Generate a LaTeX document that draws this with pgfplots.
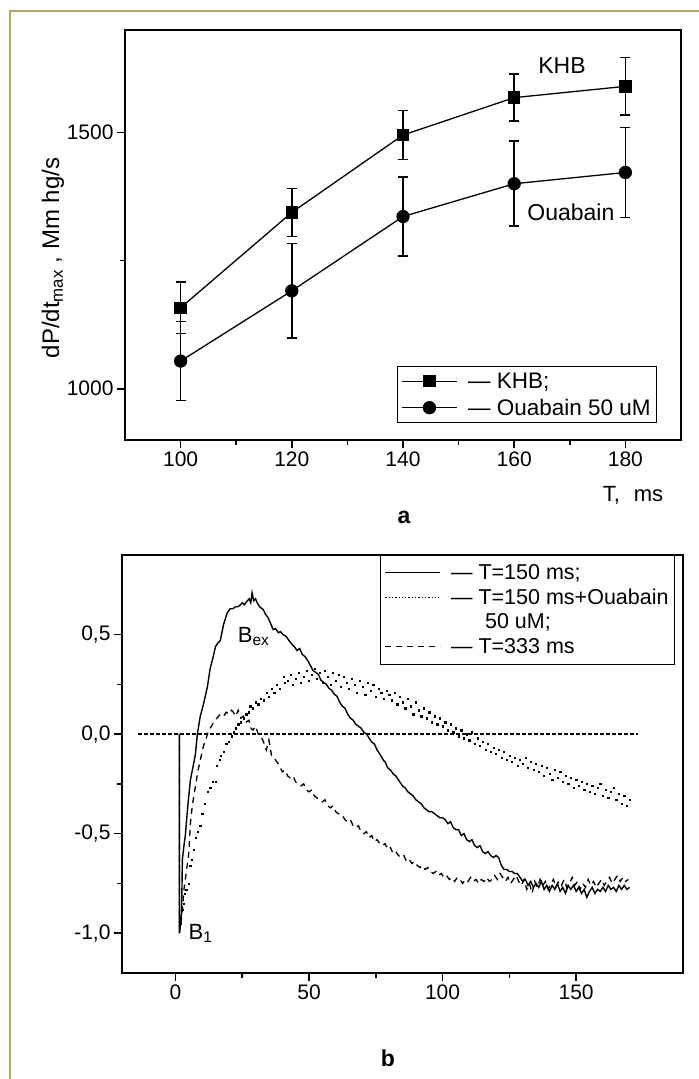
\documentclass[border=0pt]{standalone}
\usepackage{pgfplots}
\pgfplotsset{compat=1.18}
\usepackage{fontspec}
\setmainfont{Liberation Sans}
\definecolor{frameol}{RGB}{178,168,96}
\newcommand{\fa}{\fontsize{21bp}{25bp}\selectfont}
\newcommand{\fl}{\fontsize{22.5bp}{26bp}\selectfont}
\newcommand{\fb}{\fontsize{21.5bp}{24bp}\selectfont}
\newcommand{\ft}{\fontsize{23bp}{27bp}\selectfont}
\pgfplotsset{
  myaxis/.style={
    scale only axis, clip=false,
    axis line style={line width=1.8bp},
    tick style={line width=1.6bp, black},
    major tick length=8bp, minor tick length=5bp,
    tick align=outside, tick pos=left,
    tick label style={font=\fa},
  }
}
\begin{document}
\begin{tikzpicture}[x=1bp,y=1bp]
\path[use as bounding box] (0,0) rectangle (699,1079);
\draw[frameol, line width=2bp] (10,0) -- (10,1068) -- (700,1068);
% ---------------- panel a ----------------
\begin{axis}[myaxis,
  at={(125bp,639bp)}, anchor=south west,
  width=556bp, height=410bp,
  xmin=90, xmax=190, ymin=900, ymax=1700,
  xtick={100,120,140,160,180}, xticklabels={100,120,140,160,180},
  ytick={1000,1500}, yticklabels={1000,1500},
  minor x tick num=1, minor y tick num=1,
  legend style={at={(rel axis cs:0.957,0.0415)}, anchor=south east,
    font=\fl, draw=black, line width=0.8bp, row sep=5bp, inner sep=4bp},
  legend cell align=left,
  legend image code/.code={\draw[mark repeat=2,mark phase=2,#1] plot coordinates {(0bp,0bp) (27bp,0bp) (55bp,0bp)};},
]
\addplot[black, line width=1.3bp, mark=square*, mark size=5.5bp, mark options={solid},
  error bars/.cd, y dir=both, y explicit,
  error bar style={line width=1.6bp},
  error mark options={rotate=90, mark size=5bp, line width=1.6bp}]
  coordinates {(100,1158) +- (0,50) (120,1344) +- (0,47) (140,1495) +- (0,48) (160,1568) +- (0,46) (180,1590) +- (0,56)};
\addlegendentry{\hspace*{8bp}— KHB;}
\addplot[black, line width=1.3bp, mark=*, mark size=6bp, mark options={solid},
  error bars/.cd, y dir=both, y explicit,
  error bar style={line width=1.6bp},
  error mark options={rotate=90, mark size=5bp, line width=1.6bp}]
  coordinates {(100,1054) +- (0,77) (120,1191) +- (0,92) (140,1336) +- (0,77) (160,1400) +- (0,83) (180,1422) +- (0,88)};
\addlegendentry{\hspace*{8bp}— Ouabain 50 uM}
\node[font=\ft] at (axis cs:168.6,1631) {KHB};
\node[font=\ft] at (axis cs:170.2,1344) {Ouabain};
\node[font=\fontsize{24bp}{28bp}\selectfont, rotate=90] at (rel axis cs:-0.1295,0.444) {dP/dt\textsubscript{max} , Mm hg/s};
\end{axis}
\node[font=\fontsize{22bp}{26bp}\selectfont] at (633,584) {T,\hspace{14bp}ms};
\node[font=\ft\bfseries] at (404,562) {a};
% ---------------- panel b ----------------
\begin{axis}[myaxis,
  at={(122bp,106bp)}, anchor=south west,
  width=561bp, height=418bp,
  xmin=-20, xmax=190, ymin=-1.2, ymax=0.9,
  xtick={0,50,100,150}, xticklabels={0,50,100,150},
  ytick={-1,-0.5,0,0.5}, yticklabels={{-1,0},{-0,5},{0,0},{0,5}},
  minor x tick num=1, minor y tick num=1,
  legend style={at={(rel axis cs:0.9857,1)}, anchor=north east,
    font=\fb, draw=black, line width=0.8bp, row sep=4bp, inner xsep=4bp, inner ysep=7bp},
  legend cell align=left,
  legend image code/.code={\draw[#1] (0bp,0bp) -- (55bp,0bp);},
]
\addlegendimage{black, line width=1.3bp}
\addlegendentry{\hspace*{8bp}— T=150 ms;}
\addlegendimage{black, line width=1.3bp, dotted}
\addlegendentry{\hspace*{8bp}— T=150 ms+Ouabain}
\addlegendimage{empty legend}
\addlegendentry{\hspace*{42bp}50 uM;}
\addlegendimage{black, line width=1.3bp, dash pattern=on 6bp off 5bp}
\addlegendentry{\hspace*{8bp}— T=333 ms}
% zero line
\addplot[forget plot, black, line width=1.3bp, dash pattern=on 4bp off 2bp] coordinates {(-14,0) (173,0)};
% T=150 ms+Ouabain (dots)
\addplot[forget plot, black, only marks, mark=square*, mark size=0.6bp] coordinates {
(2,-0.95) (2.5,-0.88) (3,-0.85) (3.5,-0.80) (4,-0.78) (5,-0.75) (5.5,-0.66) (6,-0.63) (6.8,-0.58) (7.5,-0.52)
(8.3,-0.49) (9.3,-0.46) (10,-0.40) (11,-0.35) (12,-0.29) (13,-0.27) (14,-0.24) (15,-0.24) (15.5,-0.16) (16.5,-0.13)
(17,-0.11) (18,-0.09) (19,-0.05) (20,-0.04) (21,-0.01) (21.7,0.01) (22.5,0.03) (23.5,0.05) (24.5,0.06) (25.5,0.08)
(26.5,0.10) (27.5,0.11) (28,0.14) (29,0.13) (30,0.16) (31,0.15) (32,0.18) (33,0.17) (34.3,0.21) (35,0.19)
(36,0.23) (37,0.21) (38,0.25) (39,0.23) (40.4,0.29) (41,0.26) (42,0.27) (43,0.30) (44,0.25) (45,0.28)
(46,0.31) (47,0.26) (48,0.29) (49,0.32) (50,0.27) (51,0.30) (52,0.33) (53,0.28) (54,0.31) (55,0.26)
(56,0.32) (57,0.29) (58,0.25) (59,0.31) (60,0.27) (61,0.30) (62,0.24) (63,0.29) (64,0.26) (65,0.23)
(66,0.28) (67,0.25) (68,0.21) (69,0.27) (70,0.24) (71,0.20) (72,0.26) (73,0.22) (74,0.25) (75,0.19)
(76,0.23) (77,0.21) (78,0.18) (79,0.22) (80,0.20) (81,0.17) (82,0.21) (83,0.15) (84,0.19) (85,0.16)
(86,0.13) (87,0.18) (88,0.14) (89,0.10) (90,0.16) (91,0.12) (92,0.09) (93,0.13) (94,0.08) (95,0.11)
(96,0.06) (97,0.09) (98,0.05) (99,0.08) (100,0.04) (101,0.06) (102,0.02) (103,0.05) (104,0.01) (105,0.03)
(106,-0.01) (107,0.02) (108,-0.02) (109,0.0) (110,-0.03) (111,0.01) (112,-0.05) (113,-0.02) (114,-0.06) (115,-0.04)
(116,-0.08) (117,-0.05) (118,-0.09) (119,-0.07) (120,-0.10) (121,-0.08) (122,-0.12) (123,-0.09) (124,-0.13) (125,-0.11)
(126,-0.14) (127,-0.12) (128,-0.16) (129,-0.13) (130,-0.15) (131,-0.12) (132,-0.17) (133,-0.14) (134,-0.18) (135,-0.15)
(136,-0.19) (137,-0.16) (138,-0.21) (139,-0.17) (140,-0.20) (141,-0.23) (142,-0.18) (143,-0.22) (144,-0.19) (145,-0.24)
(146,-0.21) (147,-0.25) (148,-0.22) (149,-0.27) (150,-0.23) (151,-0.26) (152,-0.24) (153,-0.28) (154,-0.25) (155,-0.29)
(156,-0.26) (157,-0.30) (158,-0.27) (159,-0.25) (160,-0.31) (161,-0.28) (162,-0.32) (163,-0.29) (164,-0.27) (165,-0.33)
(166,-0.30) (167,-0.35) (168,-0.31) (169,-0.36) (170,-0.33)};
% T=333 ms (dashed)
\addplot[forget plot, black, line width=1.3bp, dash pattern=on 6bp off 5bp] coordinates {
(1.5,0) (1.5,-1.0) (2.5,-0.9) (3.2,-0.78) (4,-0.7) (5,-0.6) (5.6,-0.45) (6.3,-0.36) (7.5,-0.26) (8.5,-0.18) (9.3,-0.13)
(10.5,-0.06) (11.5,-0.02) (12.5,0.02) (13.5,0.04) (14.3,0.06) (15.5,0.08) (16.8,0.10) (18,0.09) (19,0.11) (20,0.10)
(21,0.12) (21.7,0.11) (22.5,0.09) (23.5,0.12) (24.5,0.08) (25.4,0.09) (26.5,0.06) (27.5,0.07) (28.3,0.03) (29,0.02)
(30,0.04) (31,0.0) (32,-0.01) (33,-0.04) (34,-0.08) (35,-0.03) (36,-0.11) (37,-0.12) (38,-0.14) (39,-0.16)
(40,-0.19) (41,-0.18) (42,-0.21) (43,-0.22) (44,-0.21) (45,-0.24) (46,-0.25) (47,-0.26) (48,-0.25) (49,-0.28)
(50,-0.29) (51,-0.28) (52,-0.31) (53,-0.32) (54,-0.33) (55,-0.34) (56,-0.33) (57,-0.36) (58,-0.37) (59,-0.36)
(60,-0.39) (61,-0.40) (62,-0.40) (63.5,-0.43) (64.5,-0.44) (65.5,-0.43) (66.5,-0.46) (67.5,-0.47) (68.5,-0.46) (69.5,-0.49)
(70.5,-0.50) (71.5,-0.49) (72.5,-0.52) (73.5,-0.51) (74.5,-0.54) (75.5,-0.53) (76.5,-0.55) (77.5,-0.56) (78.5,-0.55) (79.5,-0.58)
(80.5,-0.57) (81.5,-0.60) (82.5,-0.59) (83.5,-0.61) (84.5,-0.62) (85.5,-0.61) (86.5,-0.64) (87.5,-0.63) (88.5,-0.65) (89.5,-0.64)
(90.5,-0.66) (91.5,-0.67) (92.5,-0.66) (93.5,-0.68) (94.5,-0.67) (95.5,-0.69) (96.5,-0.70) (97.5,-0.69) (98.5,-0.71) (99.5,-0.70)
(100.5,-0.72) (101.5,-0.71) (102.5,-0.73) (103.5,-0.72) (104.5,-0.74) (105.5,-0.72) (106.5,-0.73) (107.5,-0.75) (108.5,-0.73) (109.5,-0.74)
(110.5,-0.72) (111.5,-0.74) (112.5,-0.73) (113.5,-0.75) (114.5,-0.73) (115.5,-0.74) (116.5,-0.72) (117.5,-0.74) (118.5,-0.73) (119.5,-0.71)
(120.5,-0.73) (121.5,-0.70) (122.5,-0.72) (123.5,-0.74) (124.5,-0.72) (125.5,-0.75) (126.5,-0.73) (127.5,-0.71) (128.5,-0.74) (129.5,-0.76)
(130.5,-0.73) (131.5,-0.78) (132.5,-0.75) (133.5,-0.80) (134.5,-0.74) (135.5,-0.77) (136.5,-0.73) (137.5,-0.76) (138.5,-0.74) (139.5,-0.78)
(140.5,-0.75) (141.5,-0.73) (142.5,-0.77) (143.5,-0.74) (144.5,-0.76) (145.5,-0.73) (146.5,-0.77) (147.5,-0.75) (148.5,-0.72) (149.5,-0.76)
(150.5,-0.74) (151.5,-0.78) (152.5,-0.75) (153.5,-0.77) (154.5,-0.73) (155.5,-0.76) (156.5,-0.74) (157.5,-0.77) (158.5,-0.75) (159.5,-0.73)
(160.5,-0.76) (161.5,-0.74) (162.5,-0.72) (163.5,-0.75) (164.5,-0.73) (165.5,-0.71) (166.5,-0.74) (167.5,-0.72) (168.5,-0.74) (169.5,-0.73)};
% T=150 ms (solid)
\addplot[forget plot, black, line width=1.4bp] coordinates {
(1.5,0) (1.5,-1.0) (2.3,-0.9) (2.6,-0.63) (3.2,-0.56) (3.7,-0.51) (4.5,-0.38) (5.6,-0.23) (6.5,-0.17) (7.5,-0.10)
(8.2,0.0) (9.3,0.09) (10.5,0.15) (12,0.24) (13,0.33) (14,0.38) (15,0.44) (16,0.46) (16.8,0.47) (18,0.55)
(19.4,0.61) (20.5,0.63) (21.5,0.63) (22.5,0.64) (23.5,0.64) (24.3,0.65) (25,0.66) (25.8,0.65) (26.9,0.67) (27.6,0.68)
(28.2,0.66) (28.7,0.71) (29.3,0.67) (30,0.68) (30.6,0.66) (31.5,0.64) (32.9,0.625) (33.8,0.60) (34.5,0.59) (35.5,0.56)
(36.6,0.525) (37.5,0.53) (38.5,0.51) (39.3,0.515) (40.3,0.50) (41.5,0.49) (42.5,0.47) (43.7,0.45) (44.5,0.44) (45.5,0.42)
(46.5,0.43) (47.5,0.40) (48.5,0.39) (49.5,0.37) (50.5,0.345) (51.5,0.32) (52.5,0.31) (53.5,0.30) (54.5,0.27) (55.5,0.26)
(56.5,0.25) (57.5,0.23) (58.5,0.22) (59.5,0.20) (60.5,0.19) (61.5,0.16) (62.5,0.14) (63.5,0.13) (64.5,0.10) (65.5,0.08)
(66.5,0.07) (67.5,0.05) (68.5,0.04) (69.5,0.03) (70.5,0.01) (71.6,0.0) (72.5,-0.02) (73.5,-0.04) (74.5,-0.05) (75.5,-0.08)
(76.5,-0.10) (77.8,-0.13) (78.5,-0.14) (79.5,-0.17) (80.5,-0.18) (81.5,-0.20) (82.5,-0.21) (83.5,-0.23) (85,-0.26) (86,-0.27)
(87,-0.29) (88,-0.30) (89,-0.31) (90,-0.33) (91,-0.34) (92,-0.35) (93,-0.37) (94,-0.38) (95,-0.39) (96,-0.39)
(97,-0.40) (98,-0.41) (99,-0.42) (100,-0.42) (101,-0.43) (102,-0.45) (103,-0.44) (104,-0.47) (105,-0.48) (106,-0.48)
(107,-0.51) (108,-0.50) (109,-0.53) (110,-0.54) (111,-0.53) (112,-0.56) (113,-0.57) (114,-0.56) (115,-0.59) (116,-0.60)
(117,-0.59) (118,-0.61) (119,-0.62) (120,-0.61) (121,-0.62) (122,-0.66) (123,-0.68) (124,-0.68) (125,-0.69) (126,-0.69)
(127,-0.70) (128,-0.70) (129,-0.72) (130,-0.74) (131,-0.73) (132,-0.76) (133,-0.74) (134,-0.77) (135,-0.75) (136,-0.77)
(137,-0.74) (138,-0.78) (139,-0.76) (140,-0.79) (141,-0.76) (142,-0.78) (143,-0.75) (144,-0.79) (145,-0.77) (146,-0.80)
(147,-0.76) (148,-0.78) (149,-0.76) (150,-0.79) (151,-0.77) (152,-0.80) (153,-0.78) (154,-0.82) (155,-0.79) (156,-0.77)
(157,-0.80) (158,-0.78) (159,-0.79) (160,-0.77) (161,-0.79) (162,-0.76) (163,-0.78) (164,-0.77) (165,-0.79) (166,-0.76)
(167,-0.78) (168,-0.76) (169,-0.78) (170,-0.77)};
\node[font=\fontsize{22bp}{26bp}\selectfont, anchor=base west, inner sep=0pt] at (axis cs:23.3,0.46) {B\textsubscript{ex}};
\node[font=\fontsize{22bp}{26bp}\selectfont, anchor=base west, inner sep=0pt] at (axis cs:4.9,-1.03) {B\textsubscript{1}};
\end{axis}
\node[font=\ft\bfseries] at (388,21) {b};
\end{tikzpicture}
\end{document}
